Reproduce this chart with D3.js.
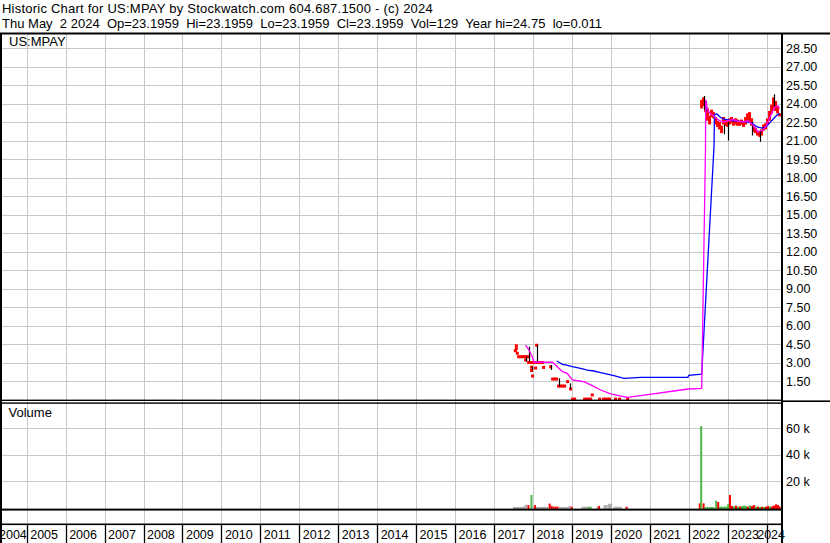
<!DOCTYPE html>
<html><head><meta charset="utf-8">
<script src="https://cdn.jsdelivr.net/npm/d3@7"></script>
<style>
body{margin:0;background:#fff;}
svg{display:block;}
text{font-family:"Liberation Sans",Arial,sans-serif;fill:#000;}
</style>
</head><body>
<svg id="c" width="830" height="543"></svg>
<script>
// ---------------- DATA ----------------
const titleLine1 = "Historic Chart for US:MPAY by Stockwatch.com 604.687.1500 - (c) 2024";
const titleLine2 = "Thu May  2 2024  Op=23.1959  Hi=23.1959  Lo=23.1959  Cl=23.1959  Vol=129  Year hi=24.75  lo=0.011";
const symbolLabel = "US:MPAY";
const volumeLabel = "Volume";

const yearTicks = [2004,2005,2006,2007,2008,2009,2010,2011,2012,2013,2014,2015,2016,2017,2018,2019,2020,2021,2022,2023,2024];
const priceTicks = [1.5,3,4.5,6,7.5,9,10.5,12,13.5,15,16.5,18,19.5,21,22.5,24,25.5,27,28.5];
const volTicks = [20000,40000,60000];
const volTickLabels = ["20 k","40 k","60 k"];

// early daily closes (decimal year, price)
const earlyT = [2017.548,2017.574,2017.574,2017.599,2017.633,2017.684,2017.735,2017.787,2017.813,2017.838,2017.890,2017.890,2017.941,2017.967,2017.967,2017.992,2017.992,2018.044,2018.069,2018.095,2018.095,2018.146,2018.198,2018.249,2018.275,2018.455,2018.506,2018.557,2018.609,2018.660,2018.711,2018.763,2018.814,2018.891,2018.969,2019.020,2019.071,2019.328,2019.379,2019.430,2019.482,2019.525,2019.713,2019.815,2019.867,2019.918,2019.969,2020.123,2020.226,2020.432];
const earlyClose = [3.96,4.35,4.12,3.75,3.47,3.47,3.47,3.47,3.20,3.47,3.47,3.00,3.00,2.62,2.35,1.90,3.00,3.00,2.55,4.40,3.00,3.00,3.00,3.00,2.60,2.65,1.66,1.66,1.66,1.09,1.09,1.09,1.09,1.45,0.85,0.03,0.03,0.03,0.03,0.03,0.03,0.37,0.03,0.03,0.03,0.03,0.03,0.03,0.03,0.03];

// recent price ranges (decimal year, high, low)
const recentT = [2022.331,2022.383,2022.434,2022.485,2022.537,2022.588,2022.639,2022.691,2022.742,2022.793,2022.845,2022.896,2022.947,2022.999,2023.050,2023.101,2023.153,2023.204,2023.255,2023.307,2023.358,2023.409,2023.461,2023.512,2023.563,2023.615,2023.666,2023.717,2023.769,2023.820,2023.871,2023.923,2023.974,2024.025,2024.077,2024.128,2024.179,2024.231,2024.282,2024.334];
const recentHi = [24.3,24.5,24.0,23.6,23.0,23.5,23.3,22.9,22.6,22.5,22.2,22.9,22.7,22.6,22.8,22.9,22.7,22.8,22.7,22.6,22.7,22.5,22.9,23.2,23.3,22.8,22.2,22.0,21.8,21.7,21.9,22.3,22.4,22.8,23.4,23.9,24.5,24.2,23.8,23.2];
const recentLo = [23.6,23.8,23.3,22.6,22.3,22.9,22.8,22.3,22.1,21.9,21.6,22.3,22.2,22.1,22.3,22.4,22.2,22.3,22.2,22.2,22.3,22.1,22.3,22.6,22.5,22.2,21.7,21.6,21.4,21.3,21.4,21.8,21.9,22.3,22.6,23.2,23.6,23.4,23.2,23.2];

// black high-low bars (decimal year, high, low)
const barT  = [2017.813,2017.890,2017.967,2018.095,2018.455,2018.660,2018.943,2022.383,2022.434,2022.896,2022.999,2023.615,2023.820,2024.179];
const barHi = [3.47,4.28,2.66,4.42,2.80,1.72,1.31,24.6,24.2,22.3,22.5,22.5,21.85,24.75];
const barLo = [3.07,3.07,2.39,2.94,2.40,1.09,0.83,23.5,23.4,21.5,21.0,21.4,20.9,23.7];

// long moving average (blue)
const maLongT = [2018.609,2018.668,2018.755,2018.840,2019.012,2019.225,2019.397,2019.566,2019.739,2019.996,2020.080,2020.337,2020.766,2021.980,2022.000,2022.334,2022.650,2022.663,2022.727,2022.804,2022.881,2022.984,2023.138,2023.318,2023.523,2023.651,2023.754,2023.883,2023.985,2024.088,2024.191,2024.268,2024.334];
const maLongV = [3.12,3.02,2.85,2.80,2.66,2.53,2.39,2.31,2.17,1.99,1.93,1.72,1.80,1.80,1.96,2.05,20.5,23.1,23.15,22.9,22.75,22.7,22.6,22.55,22.5,22.35,22.1,22.0,22.1,22.45,22.8,23.07,23.2];

// short moving average (magenta)
const maShortT = [2017.813,2017.897,2017.985,2018.026,2018.498,2018.583,2018.668,2018.755,2018.883,2019.012,2019.310,2019.482,2019.739,2019.996,2020.424,2020.766,2021.621,2021.990,2022.334,2022.431,2022.437,2022.478,2022.547,2022.675,2022.760,2022.889,2023.009,2023.138,2023.266,2023.394,2023.523,2023.651,2023.780,2023.916,2024.011,2024.088,2024.216,2024.293,2024.334];
const maShortV = [4.42,4.01,3.47,3.02,3.02,2.80,2.53,2.26,2.12,1.58,1.44,1.18,0.77,0.45,0.18,0.31,0.69,0.85,0.91,20.2,24.3,23.5,23.2,22.9,22.67,22.5,22.6,22.7,22.55,22.5,22.6,22.26,21.7,21.85,22.3,22.9,23.74,23.8,23.6];

// volume (decimal year, shares, colour code: g up / r down / n unchanged)
const volT = [2017.517,2017.569,2017.620,2017.671,2017.723,2017.774,2017.825,2017.884,2017.962,2018.013,2018.056,2018.108,2018.159,2018.211,2018.262,2018.313,2018.365,2018.429,2018.480,2018.532,2018.583,2018.634,2018.686,2018.737,2018.788,2018.840,2018.891,2018.942,2018.994,2019.276,2019.328,2019.379,2019.430,2019.482,2019.662,2019.700,2019.841,2019.893,2019.957,2020.008,2020.098,2020.149,2020.201,2020.252,2020.406,
  2022.285,2022.321,2022.383,2022.434,2022.485,2022.537,2022.588,2022.639,2022.706,2022.758,2022.809,2022.860,2022.912,2022.963,2023.014,2023.061,2023.112,2023.163,2023.215,2023.266,2023.317,2023.369,2023.420,2023.472,2023.523,2023.574,2023.626,2023.677,2023.728,2023.780,2023.831,2023.882,2023.934,2023.985,2024.036,2024.088,2024.139,2024.191,2024.242,2024.293,2024.334];
const volV = [800,800,800,800,800,1200,2500,2200,9800,1000,2200,800,800,800,800,800,800,3300,1500,1000,1000,1000,800,800,800,800,800,1500,1000,1000,1000,1000,1000,1000,1200,1500,2300,2300,3200,3200,1000,1000,1000,1000,1000,
  3500,61700,3500,800,800,800,800,800,5500,4500,1000,1000,1000,1000,3000,9800,1500,1200,1800,1000,1200,1500,1800,1500,1000,2000,1500,2200,1000,1000,800,1000,800,1000,1500,1200,1200,1800,2800,2300,1200];
const volC = ["n","n","n","n","n","n","n","r","g","n","r","n","n","n","n","n","n","r","r","r","r","r","n","n","n","n","n","n","r","n","n","n","g","g","n","r","n","n","n","n","n","n","n","n","r",
  "r","g","r","g","g","g","g","g","g","r","g","g","g","g","g","r","r","g","r","g","r","g","g","g","r","g","r","r","g","r","g","r","g","r","r","g","r","r","r","r","r"];

// ---------------- DRAW ----------------
const svg = d3.select("#c");
const W = 830, H = 543;
const plotL = 2, plotR = 781, topY = 33.5;

const x = d3.scaleLinear().domain([2004, 2024]).range([-12.24, 766.56]);
const y = d3.scaleLinear().domain([0, 28.5]).range([399.5, 48]);
const vy = d3.scaleLinear().domain([0, 60000]).range([508, 428.3]);

const defs = svg.append("defs");
defs.append("clipPath").attr("id","pclip").append("rect").attr("x",plotL).attr("y",topY).attr("width",plotR-plotL).attr("height",400-topY);
defs.append("clipPath").attr("id","vclip").append("rect").attr("x",plotL).attr("y",403).attr("width",plotR-plotL).attr("height",106);

svg.append("rect").attr("width",W).attr("height",H).attr("fill","#fff");

// header: fit each line to the width it has in the reference via letter-spacing
function fitWidth(sel, target) {
  const node = sel.node();
  const w = node.getComputedTextLength();
  const n = node.textContent.length;
  sel.style("letter-spacing", ((target - w) / n) + "px");
}
const h1 = svg.append("text").attr("x",2).attr("y",13).attr("font-size","13px").style("white-space","pre").text(titleLine1);
fitWidth(h1, 431);
const h2 = svg.append("text").attr("x",2).attr("y",27.5).attr("font-size","13px").style("white-space","pre").text(titleLine2);
fitWidth(h2, 600);

const grid = svg.append("g").attr("stroke","#c8c8c8").attr("stroke-width",1).attr("shape-rendering","crispEdges");
const innerYears = yearTicks.filter(d => x(d) > plotL && x(d) < plotR);
grid.selectAll("line.v").data(innerYears).enter().append("line")
  .attr("x1", d => Math.round(x(d)) + 0.5).attr("x2", d => Math.round(x(d)) + 0.5)
  .attr("y1", topY).attr("y2", 524);
grid.selectAll("line.p").data(priceTicks).enter().append("line")
  .attr("x1", plotL).attr("x2", plotR)
  .attr("y1", d => Math.round(y(d)) + 0.5).attr("y2", d => Math.round(y(d)) + 0.5);
grid.selectAll("line.vv").data(volTicks).enter().append("line")
  .attr("x1", plotL).attr("x2", plotR)
  .attr("y1", d => Math.round(vy(d)) + 0.5).attr("y2", d => Math.round(vy(d)) + 0.5);

// price panel
const pg = svg.append("g").attr("clip-path","url(#pclip)");
pg.selectAll("rect.rr").data(recentT.map((t,i)=>({t, hi:recentHi[i], lo:recentLo[i]}))).enter().append("rect")
  .attr("x", d => x(d.t) - 1.5).attr("width", 3)
  .attr("y", d => y(d.hi)).attr("height", d => Math.max(3, y(d.lo) - y(d.hi)))
  .attr("fill", "#ff0000");
pg.selectAll("rect.ec").data(earlyT.map((t,i)=>({t, c:earlyClose[i]}))).enter().append("rect")
  .attr("x", d => x(d.t) - 1.5).attr("width", 3)
  .attr("y", d => y(d.c) - 1.5).attr("height", 3)
  .attr("fill", "#ff0000");
pg.selectAll("line.hl").data(barT.map((t,i)=>({t, hi:barHi[i], lo:barLo[i]}))).enter().append("line")
  .attr("x1", d => Math.round(x(d.t)) + 0.5).attr("x2", d => Math.round(x(d.t)) + 0.5)
  .attr("y1", d => y(d.hi)).attr("y2", d => y(d.lo))
  .attr("stroke", "#000").attr("stroke-width", 1.2);

const line = d3.line().x(d => x(d[0])).y(d => y(d[1]));
pg.append("path").datum(maLongT.map((t,i)=>[t, maLongV[i]])).attr("d", line)
  .attr("fill","none").attr("stroke","#0000ff").attr("stroke-width",1.3);
pg.append("path").datum(maShortT.map((t,i)=>[t, maShortV[i]])).attr("d", line)
  .attr("fill","none").attr("stroke","#ff00ff").attr("stroke-width",1.3);

// volume bars
const vcol = {g:"#4cb848", r:"#ff0000", n:"#aaaaaa"};
const vg = svg.append("g").attr("clip-path","url(#vclip)");
vg.selectAll("rect").data(volT.map((t,i)=>({t, v:volV[i], c:volC[i]}))).enter().append("rect")
  .attr("x", d => x(d.t) - 1).attr("width", 2)
  .attr("y", d => vy(d.v)).attr("height", d => Math.max(1, 509 - vy(d.v)))
  .attr("fill", d => vcol[d.c]);

// frame lines
const fr = svg.append("g").attr("fill","#000");
fr.append("rect").attr("x",0).attr("y",32.5).attr("width",W).attr("height",2);
fr.append("rect").attr("x",0).attr("y",33).attr("width",2).attr("height",H-33);
fr.append("rect").attr("x",plotR).attr("y",33).attr("width",2).attr("height",H-33);
fr.append("rect").attr("x",0).attr("y",399.6).attr("width",plotR).attr("height",1.4);
fr.append("rect").attr("x",0).attr("y",402.4).attr("width",plotR).attr("height",1.4);
fr.append("rect").attr("x",plotR).attr("y",400.4).attr("width",W-plotR).attr("height",1.6);
fr.append("rect").attr("x",0).attr("y",508.6).attr("width",plotR).attr("height",2);
fr.append("rect").attr("x",0).attr("y",523.5).attr("width",plotR).attr("height",1.6);

// year separators + labels
const xr = svg.append("g");
xr.selectAll("line").data(innerYears).enter().append("line")
  .attr("x1", d => Math.round(x(d)) + 0.5).attr("x2", d => Math.round(x(d)) + 0.5)
  .attr("y1", 524).attr("y2", H).attr("stroke","#000").attr("stroke-width",1.3);
xr.selectAll("text").data(yearTicks).enter().append("text")
  .attr("font-size","12.5px").attr("y",539).text(d => String(d))
  .each(function(d){
    const w = this.getComputedTextLength();
    let lx = x(d) + 3.5;
    lx = Math.max(lx, -1);
    lx = Math.min(lx, 785 - w);
    d3.select(this).attr("x", lx);
  });

// right axis labels
svg.append("g").selectAll("text").data(priceTicks).enter().append("text")
  .attr("x",786).attr("y", d => y(d)).attr("dy","0.36em").attr("font-size","12.5px")
  .text(d => d3.format(".2f")(d));
svg.append("g").selectAll("text").data(volTicks).enter().append("text")
  .attr("x",786).attr("y", d => vy(d)).attr("dy","0.36em").attr("font-size","12.5px")
  .text((d,i) => volTickLabels[i]);

// panel labels
svg.append("text").attr("x",9).attr("y",46).attr("font-size","13px").text(symbolLabel);
svg.append("text").attr("x",8.5).attr("y",417).attr("font-size","13px").text(volumeLabel);
</script>
</body></html>
